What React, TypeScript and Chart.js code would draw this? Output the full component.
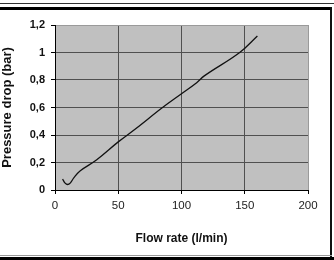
import React, { useEffect, useRef } from "react";
import { Chart, registerables } from "chart.js";

Chart.register(...registerables);

const flowRate = [6, 8, 10, 12, 15, 20, 33, 50, 63, 85, 100, 112, 118, 146, 160];
const pressureDrop = [0.08, 0.05, 0.04, 0.05, 0.09, 0.14, 0.22, 0.35, 0.44, 0.6, 0.7, 0.78, 0.83, 1.0, 1.12];
const yTickValues = [0, 0.2, 0.4, 0.6, 0.8, 1, 1.2];
const xTickValues = [0, 50, 100, 150, 200];
const xTitle = "Flow rate (l/min)";
const yTitle = "Pressure drop (bar)";

const FONT = "'Liberation Sans', Arial, sans-serif";

const plotBg = {
  id: "plotBg",
  beforeDraw(chart: any) {
    const { ctx, chartArea } = chart;
    ctx.save();
    ctx.fillStyle = "#c0c0c0";
    ctx.fillRect(chartArea.left, chartArea.top, chartArea.right - chartArea.left, chartArea.bottom - chartArea.top);
    ctx.restore();
  },
};

export default function App() {
  const ref = useRef<HTMLCanvasElement | null>(null);
  useEffect(() => {
    if (!ref.current) return;
    const chart = new Chart(ref.current, {
      type: "scatter",
      data: {
        datasets: [
          {
            data: flowRate.map((x, i) => ({ x, y: pressureDrop[i] })),
            showLine: true,
            borderColor: "#111",
            borderWidth: 1.3,
            pointRadius: 0,
            tension: 0.4,
          },
        ],
      },
      plugins: [plotBg],
      options: {
        animation: false,
        responsive: false,
        layout: { padding: { left: 0, top: 25, right: 26, bottom: 0 } },
        plugins: { legend: { display: false }, tooltip: { enabled: false } },
        scales: {
          x: {
            type: "linear",
            min: 0,
            max: 200,
            afterFit: (s: any) => { s.height = 70; },
            afterBuildTicks: (s: any) => { s.ticks = xTickValues.map((v) => ({ value: v })); },
            ticks: { color: "#222", font: { family: FONT, size: 11.5 }, padding: 5, maxRotation: 0 },
            grid: {
              color: (c: any) => (c.tick && c.tick.value === 200 ? "#9a9a9a" : "#505050"),
              tickColor: "#000",
              tickLength: 4,
              lineWidth: 1,
            },
            border: { color: "#000", width: 1 },
            title: { display: true, text: xTitle, color: "#111", font: { family: FONT, size: 12, weight: "bold" }, padding: { top: 0, bottom: 14 } },
          },
          y: {
            type: "linear",
            min: 0,
            max: 1.2,
            afterFit: (s: any) => { s.width = 55; },
            afterBuildTicks: (s: any) => { s.ticks = yTickValues.map((v) => ({ value: v })); },
            ticks: {
              color: "#111",
              font: { family: FONT, size: 11, weight: "bold" },
              padding: 6,
              callback: (v: any) => String(Math.round(Number(v) * 10) / 10).replace(".", ","),
            },
            grid: {
              color: (c: any) => (c.tick && Math.abs(c.tick.value - 1.2) < 1e-6 ? "#9a9a9a" : "#505050"),
              tickColor: "#000",
              tickLength: 4,
              lineWidth: 1,
            },
            border: { color: "#000", width: 1 },
            title: { display: true, text: yTitle, color: "#111", font: { family: FONT, size: 13, weight: "bold" }, padding: { top: 0, bottom: 0 } },
          },
        },
      },
    });
    return () => chart.destroy();
  }, []);

  return (
    <div style={{ position: "absolute", left: 0, top: 0, width: 334, height: 260, background: "#fff", overflow: "hidden" }}>
      <canvas ref={ref} width={334} height={260} style={{ position: "absolute", left: 0, top: 0, width: 334, height: 260 }} />
      <div style={{ position: "absolute", left: 0, top: 3, width: 334, height: 1, background: "#333" }} />
      <div style={{ position: "absolute", left: 0, top: 7, width: 332, height: 3, background: "#000" }} />
      <div style={{ position: "absolute", left: 330, top: 7, width: 2, height: 253, background: "#111" }} />
      <div style={{ position: "absolute", left: 0, top: 255, width: 332, height: 1, background: "#999" }} />
      <div style={{ position: "absolute", left: 0, top: 257, width: 334, height: 3, background: "#000" }} />
    </div>
  );
}
